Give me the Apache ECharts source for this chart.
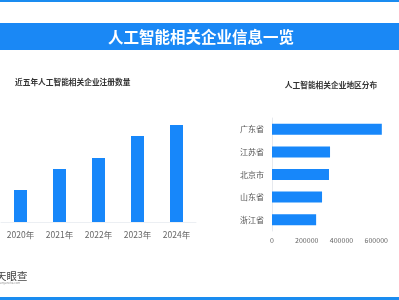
<!DOCTYPE html>
<html><head><meta charset="utf-8">
<script src="https://cdn.jsdelivr.net/npm/echarts@6/dist/echarts.min.js"></script>
<style>html,body{margin:0;padding:0;background:#fff}#c{width:399px;height:300px}</style>
</head><body><div id="c"></div>
<script>
const mainTitle = '人工智能相关企业信息一览';
const leftTitle = '近五年人工智能相关企业注册数量';
const rightTitle = '人工智能相关企业地区分布';
const years = ['2020年','2021年','2022年','2023年','2024年'];
const yearValues = [32, 53, 64, 86, 97];
const regions = ['广东省','江苏省','北京市','山东省','浙江省'];
const regionValues = [632000, 334000, 328000, 288000, 254000];
const regionTicks = [0, 200000, 400000, 600000, 800000];

const chart = echarts.init(document.getElementById('c'));
const font = '"Noto Sans CJK SC", sans-serif';
chart.setOption({
  backgroundColor: '#fff',
  animation: false,
  textStyle: {fontFamily: font},
  graphic: [
    {type:'rect', shape:{x:0,y:0,width:399,height:2}, style:{fill:'#1a8cf0'}},
    {type:'rect', shape:{x:0,y:23,width:399,height:27}, style:{fill:'#1a88f5'}},
    {type:'text', x:201, y:37, style:{text:mainTitle, fill:'#fff', font:'bold 15.5px ' + font, textAlign:'center', textVerticalAlign:'middle'}},
    {type:'text', x:15, y:82, style:{text:leftTitle, fill:'#333', font:'bold 7.7px ' + font, textAlign:'left', textVerticalAlign:'middle'}},
    {type:'text', x:331, y:85, style:{text:rightTitle, fill:'#333', font:'bold 7.7px ' + font, textAlign:'center', textVerticalAlign:'middle'}},
    {type:'text', x:-4, y:276, style:{text:'天眼查', fill:'#444', font:'10.5px ' + font, textAlign:'left', textVerticalAlign:'middle'}},
    {type:'text', x:-2, y:283, style:{text:'tianyancha.com', fill:'#999', font:'3px ' + font, textAlign:'left', textVerticalAlign:'middle'}},
    {type:'rect', shape:{x:0,y:297,width:399,height:3}, style:{fill:'#1a8cf0'}}
  ],
  grid: [
    {left: 1, width: 195, top: 122, height: 100, containLabel:false, outerBoundsMode:'none'},
    {left: 272, width: 139, top: 118, height: 113, containLabel:false, outerBoundsMode:'none'}
  ],
  xAxis: [
    {gridIndex:0, type:'category', data: years,
     axisLine:{lineStyle:{color:'#eceff3'}}, axisTick:{show:false},
     axisLabel:{color:'#666', fontSize:8.5, margin:9, interval:0, hideOverlap:false}},
    {gridIndex:1, type:'value', min:0, max:800000, interval:200000,
     axisLine:{show:false}, axisTick:{show:false}, splitLine:{show:false},
     axisLabel:{color:'#666', fontSize:7, margin:6, hideOverlap:false, formatter: v => String(v)}}
  ],
  yAxis: [
    {gridIndex:0, type:'value', min:0, max:100, show:false},
    {gridIndex:1, type:'category', data: regions, inverse:true,
     axisLine:{lineStyle:{color:'#e6e9ee'}}, axisTick:{show:false},
     axisLabel:{color:'#555', fontSize:8, margin:8, interval:0}}
  ],
  series: [
    {type:'bar', xAxisIndex:0, yAxisIndex:0, data: yearValues, barWidth:13, itemStyle:{color:'#1787fa'}},
    {type:'bar', xAxisIndex:1, yAxisIndex:1, data: regionValues, barWidth:11, itemStyle:{color:'#1787fa'}}
  ]
});
</script></body></html>
